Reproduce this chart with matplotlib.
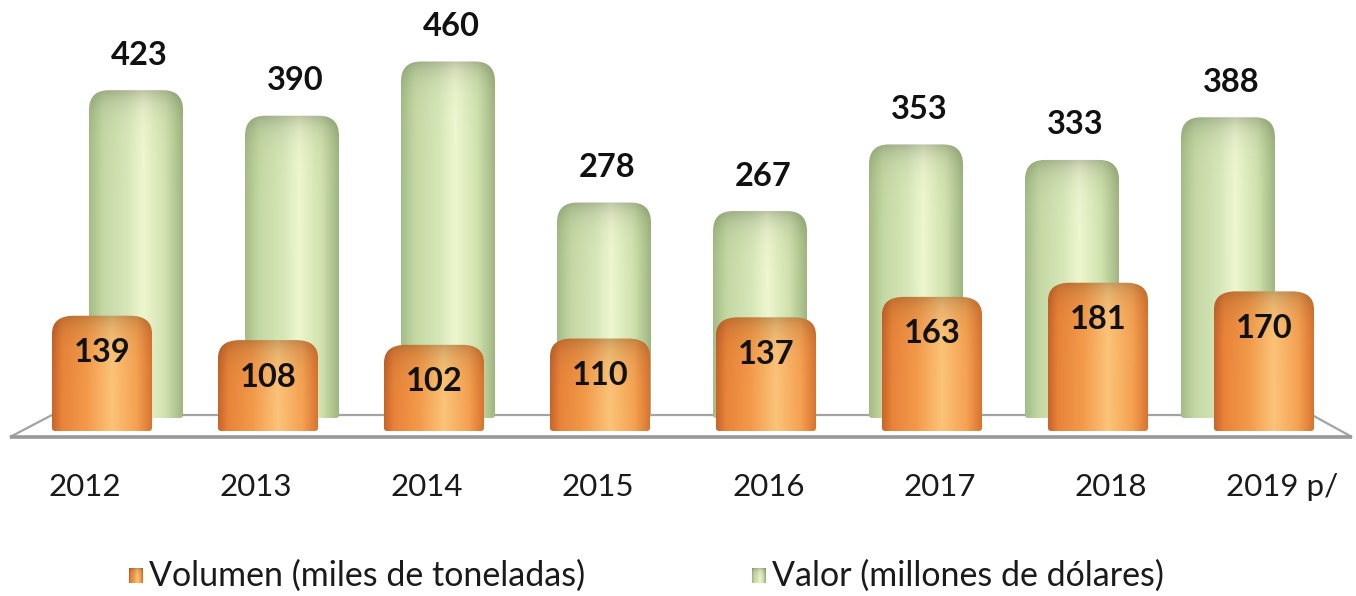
import numpy as np
import matplotlib
matplotlib.use("Agg")
import matplotlib.pyplot as plt
from matplotlib.path import Path
from matplotlib.patches import PathPatch, Polygon

years = ['2012', '2013', '2014', '2015', '2016', '2017', '2018', '2019 p/']
volumen = [139, 108, 102, 110, 137, 163, 181, 170]
valor = [423, 390, 460, 278, 267, 353, 333, 388]
legend_labels = ['Volumen (miles de toneladas)', 'Valor (millones de dólares)']

W, H = 1356, 596
FONT = 'Lato'

orange_stops = [0.0, 0.1, 0.35, 0.6, 0.85, 1.0]
orange_cols = ['#c8652a', '#e8843a', '#f39a4a', '#fbc479', '#f4a152', '#d97530']
green_stops = [0.0, 0.15, 0.4, 0.58, 0.82, 1.0]
green_cols = ['#a6bd86', '#c4d8a4', '#d6e6b8', '#eef7cf', '#cfe0ad', '#a0b781']


def hex2rgb(h):
    h = h.lstrip('#')
    return np.array([int(h[i:i + 2], 16) / 255 for i in (0, 2, 4)])


def gradient_image(w, h, stops, cols, cap=14, amt=0.2):
    xs = np.linspace(0, 1, max(int(w), 2))
    rgb = np.array([hex2rgb(c) for c in cols])
    row = np.stack([np.interp(xs, stops, rgb[:, k]) for k in range(3)], axis=-1)
    img = np.repeat(row[None, :, :], max(int(h), 2), axis=0)
    d = np.arange(img.shape[0])[:, None, None]
    shade = 1 - amt * np.exp(-d / cap)
    return np.clip(img * shade, 0, 1)


def rounded_path(x0, x1, yt, yb, rx, ry, rb=3):
    verts = [(x0, yb - rb), (x0, yt + ry), (x0, yt), (x0 + rx, yt),
             (x1 - rx, yt), (x1, yt), (x1, yt + ry), (x1, yb - rb),
             (x1, yb), (x1 - rb, yb), (x0 + rb, yb), (x0, yb), (x0, yb - rb)]
    codes = [Path.MOVETO, Path.LINETO, Path.CURVE3, Path.CURVE3,
             Path.LINETO, Path.CURVE3, Path.CURVE3, Path.LINETO,
             Path.CURVE3, Path.CURVE3, Path.LINETO, Path.CURVE3, Path.CURVE3]
    return Path(verts, codes)


def draw_cyl(ax, cx, width, yt, yb, stops, cols, rx, ry, z):
    x0, x1 = cx - width / 2, cx + width / 2
    path = rounded_path(x0, x1, yt, yb, rx, ry)
    patch = PathPatch(path, facecolor='none', edgecolor='none', zorder=z)
    ax.add_patch(patch)
    img = gradient_image(width, yb - yt, stops, cols)
    im = ax.imshow(img, extent=(x0, x1, yb, yt), origin='upper',
                   interpolation='bilinear', zorder=z, aspect='auto')
    im.set_clip_path(patch)


fig = plt.figure(figsize=(W / 100, H / 100), dpi=100)
ax = fig.add_axes([0, 0, 1, 1])
ax.set_xlim(0, W)
ax.set_ylim(H, 0)
ax.axis('off')

# floor
floor = Polygon([(52, 415), (1312, 415), (1352, 437), (10, 437)], closed=True,
                facecolor='white', edgecolor='#a3a3a3', lw=1.6, zorder=1)
ax.add_patch(floor)
ax.plot([10, 1352], [437, 437], color='#999999', lw=2.6, zorder=1.5,
        solid_capstyle='butt')

g_scale, o_scale = 0.775, 0.786
for i, v in enumerate(valor):
    cx = 136 + 156 * i
    yt = 418 - g_scale * v
    draw_cyl(ax, cx, 94, yt, 418, green_stops, green_cols, 20, 20, 2)
    ax.text(cx + 3, yt - 35, str(v), ha='center', va='center', fontsize=23.5,
            fontweight='bold', family=FONT, color='#111111', zorder=5)

for i, v in enumerate(volumen):
    cx = 102 + 166 * i
    yt = 425 - o_scale * v
    draw_cyl(ax, cx, 100, yt, 431, orange_stops, orange_cols, 22, 18, 3)
    ax.text(cx, yt + 37, str(v), ha='center', va='center', fontsize=23.5,
            fontweight='bold', family=FONT, color='#111111', zorder=5)

for i, y in enumerate(years):
    ax.text(85 + 171 * i, 487, y, ha='center', va='center', fontsize=22.5,
            family=FONT, color='#1a1a1a', zorder=5)

# legend
for (ix, stops, cols, lab) in [(129, orange_stops, orange_cols, legend_labels[0]),
                               (752, green_stops, green_cols, legend_labels[1])]:
    img = gradient_image(14, 15, stops, cols, cap=3)
    ax.imshow(img, extent=(ix, ix + 14, 583, 568), origin='upper',
              interpolation='bilinear', zorder=5, aspect='auto')
    ax.text(ix + 20, 576, lab, ha='left', va='center', fontsize=24.5,
            family=FONT, color='#1a1a1a', zorder=5)

fig.savefig('out.png', dpi=100, facecolor='white')
